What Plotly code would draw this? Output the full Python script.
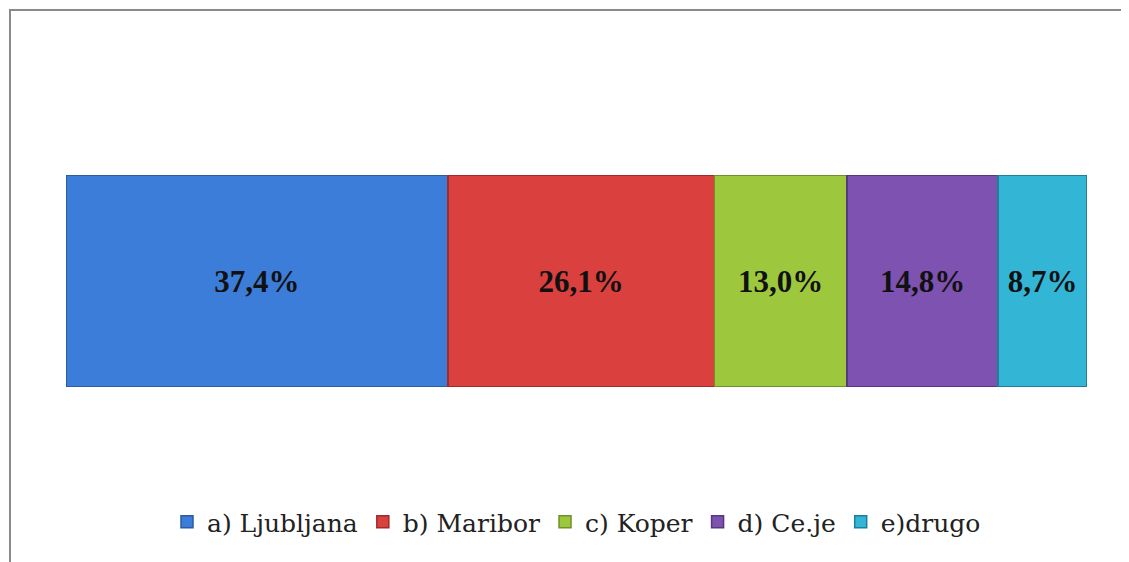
import plotly.graph_objects as go

categories = ["a) Ljubljana", "b) Maribor", "c) Koper", "d) Ce.je", "e)drugo"]
values = [37.4, 26.1, 13.0, 14.8, 8.7]
colors = ["#3B7DD8", "#D9403E", "#9DC83E", "#7D52B0", "#33B5D6"]
edge_colors = ["#2A5C9E", "#9E2C2A", "#6F9228", "#563880", "#1E7F99"]

SERIF = "Times New Roman"
LEG_FONT = "DejaVu Serif"

fig = go.Figure()
for name, v, c, e in zip(categories, values, colors, edge_colors):
    fig.add_trace(go.Bar(
        x=[v], y=[0], orientation="h", name=name,
        marker=dict(color=c, line=dict(color=e, width=1.5)),
        width=1,
        text=[f"{v:.1f}%".replace(".", ",")],
        textposition="inside", insidetextanchor="middle",
        textfont=dict(family=SERIF, size=31, color="#111111", weight="bold"),
        hoverinfo="skip",
    ))

W, H = 1121, 554
L, T, PW, PH = 58, 167, 1021, 212

fig.update_layout(
    template="none",
    barmode="stack",
    width=W, height=H,
    font=dict(family=SERIF, color="#222222"),
    margin=dict(l=L, r=W - L - PW, t=T, b=H - T - PH),
    paper_bgcolor="white", plot_bgcolor="white",
    xaxis=dict(range=[0, 100], visible=False),
    yaxis=dict(range=[-0.5, 0.5], visible=False),
    showlegend=True,
    legend=dict(
        orientation="h", traceorder="normal",
        x=0.5, xanchor="center", y=-0.637, yanchor="middle",
        font=dict(family=LEG_FONT, size=25, color="#222222"),
        itemwidth=30, bgcolor="rgba(0,0,0,0)",
    ),
    shapes=[dict(
        type="rect", xref="paper", yref="paper",
        x0=(2 - L) / PW, x1=1.2, y0=-1.5, y1=(T + PH - 2) / PH,
        line=dict(color="#8a8a8a", width=2), fillcolor="rgba(0,0,0,0)",
        layer="below",
    )],
    uniformtext=dict(minsize=10, mode="show"),
)

fig.write_html("out.html")
